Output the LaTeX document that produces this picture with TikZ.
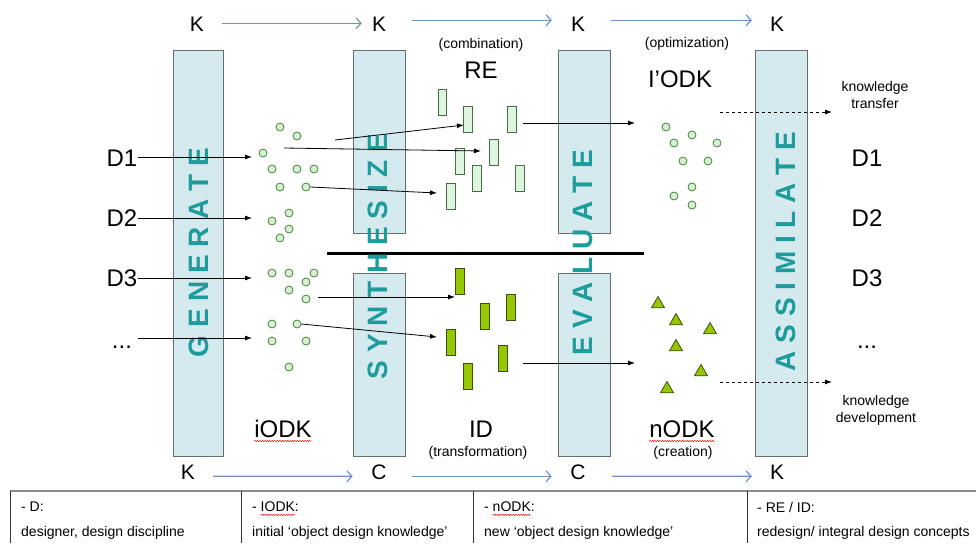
\documentclass[tikz,border=0pt]{standalone}
\usepackage{fontspec}
\setmainfont{Liberation Sans}
\usetikzlibrary{arrows.meta,shapes.geometric,decorations.pathmorphing}
\definecolor{barfill}{RGB}{212,234,239}
\definecolor{barline}{RGB}{100,110,110}
\definecolor{barteal}{RGB}{30,155,155}
\definecolor{dotfill}{RGB}{215,240,210}
\definecolor{dotline}{RGB}{70,130,60}
\definecolor{refill}{RGB}{222,246,222}
\definecolor{reline}{RGB}{70,110,70}
\definecolor{idfill}{RGB}{150,200,0}
\definecolor{idline}{RGB}{60,80,20}
\definecolor{flowblue}{RGB}{110,145,200}
\begin{document}
\begin{tikzpicture}[x=1pt,y=-1pt,
  bar/.style={draw=barline, fill=barfill, line width=1pt},
  bartext/.style={rotate=90, anchor=base, inner sep=0, text=barteal, font=\fontsize{28}{30}\selectfont\bfseries},
  big/.style={inner sep=0, anchor=base, font=\fontsize{24}{28}\selectfont},
  kc/.style={inner sep=0, anchor=base, font=\fontsize{21}{24}\selectfont},
  small/.style={inner sep=0, font=\fontsize{14}{17}\selectfont, align=center},
  tabtext/.style={inner sep=0, anchor=west, font=\fontsize{14}{17}\selectfont},
  dotn/.style={circle, draw=dotline, fill=dotfill, line width=0.8pt, minimum size=8pt, inner sep=0},
  rebox/.style={rectangle, draw=reline, fill=refill, line width=0.8pt, minimum width=8.5pt, minimum height=26pt, inner sep=0},
  idbox/.style={rectangle, draw=idline, fill=idfill, line width=0.8pt, minimum width=8.5pt, minimum height=26pt, inner sep=0},
  tri/.style={regular polygon, regular polygon sides=3, draw=idline, fill=idfill, minimum size=15pt, inner sep=0, line width=0.8pt},
  conn/.style={-{Latex[length=7pt,width=5pt]}, line width=0.8pt},
  dconn/.style={conn, dashed},
  flow/.style={-{Straight Barb[length=5pt,width=11pt]}, draw=flowblue, line width=1.2pt},
  squig/.style={draw=red, line width=0.4pt, decorate, decoration={snake, amplitude=0.7pt, segment length=2.5pt}},
  tabline/.style={draw=black!80, line width=0.9pt}
]
\useasboundingbox (0,0) rectangle (976,543);

% bars
\draw[bar] (173,51) rectangle (223,456);
\draw[bar] (353,51) rectangle (405,233);
\draw[bar] (353,273) rectangle (405,456);
\draw[bar] (558,51) rectangle (610,233);
\draw[bar] (558,273) rectangle (610,456);
\draw[bar] (755,51) rectangle (807,456);

% separator
\draw[line width=3pt] (327,253) -- (644,253);

% bar texts
\node[bartext] (gen) at (208,252.5) {G E N E R A T E};
\node[bartext] (syn) at (387,256.5) {S Y N T H E S I Z E};
\node[bartext] (eva) at (592,252.5) {E V A L U A T E};
\node[bartext] (ass) at (795,251.5) {A S S I M I L A T E};

% K / C labels
\node[kc] (kt1) at (197,31.5) {K};
\node[kc] (kt2) at (379,31.5) {K};
\node[kc] (kt3) at (578,31.5) {K};
\node[kc] (kt4) at (777,31.5) {K};
\node[kc] (kb1) at (188,479.5) {K};
\node[kc] (kb2) at (379,479.5) {C};
\node[kc] (kb3) at (578,479.5) {C};
\node[kc] (kb4) at (777,479.5) {K};
\draw[flow] ([xshift=18pt,yshift=1pt]kt1.east) -- ([xshift=-10pt,yshift=1pt]kt2.west);
\draw[flow] ([xshift=26pt,yshift=4pt]kt2.east) -- ([xshift=-19pt,yshift=4pt]kt3.west);
\draw[flow] ([xshift=26pt,yshift=4pt]kt3.east) -- ([xshift=-18pt,yshift=4pt]kt4.west);
\draw[flow] ([xshift=18pt,yshift=-4pt]kb1.east) -- ([xshift=-18.5pt,yshift=-4pt]kb2.west);
\draw[flow] ([xshift=25.5pt,yshift=-4pt]kb2.east) -- ([xshift=-18.5pt,yshift=-4pt]kb3.west);
\draw[flow] ([xshift=26.5pt,yshift=-4pt]kb3.east) -- ([xshift=-18pt,yshift=-4pt]kb4.west);

% left D labels
\node[big] (D1L) at (122,166.6) {D1};
\node[big] (D2L) at (122,226.6) {D2};
\node[big] (D3L) at (122,286.6) {D3};
\node[big] (DdL) at (122,348) {...};
% right D labels
\node[big] (D1R) at (867,166.6) {D1};
\node[big] (D2R) at (867,226.6) {D2};
\node[big] (D3R) at (867,286.6) {D3};
\node[big] (DdR) at (867,348) {...};

% top labels
\node[small] (comb) at (481,45) {(combination)};
\node[big] (RE) at (481,78.5) {RE};
\node[small] (optim) at (687,44) {(optimization)};
\node[big] (IODK) at (680,87) {I’ODK};
\node[small] (ktrans) at (875,94.5) {knowledge\\transfer};
\node[small] (kdev) at (876,410) {knowledge\\development};

% bottom labels
\node[big] (iODK) at (283,437) {iODK};
\node[big] (ID) at (481,437) {ID};
\node[small] (transf) at (478,453) {(transformation)};
\node[big] (nODK) at (682,437) {nODK};
\node[small] (creat) at (683,453) {(creation)};
\draw[squig] ([yshift=-4pt]iODK.base west) -- ([yshift=-4pt]iODK.base east);
\draw[squig] ([yshift=-4pt]nODK.base west) -- ([yshift=-4pt]nODK.base east);

% upper iODK dots
\foreach \n/\x/\y in {1/280/127, 2/297/136, 3/263/153, 4/272/169, 5/297/169, 6/314/169,
  7/280/187, 8/306/187, 9/289/213, 10/272/221, 11/289/229, 12/280/238}
  \node[dotn] (u\n) at (\x,\y) {};
% lower iODK dots
\foreach \n/\x/\y in {1/272/273, 2/289/273, 3/314/273, 4/306/282, 5/289/290, 6/306/299,
  7/272/324, 8/297/324, 9/272/341, 10/306/341, 11/289/367}
  \node[dotn] (l\n) at (\x,\y) {};
% I'ODK dots
\foreach \n/\x/\y in {1/666/127, 2/692/135, 3/674/143, 4/717/143, 5/683/161, 6/708/161,
  7/692/187, 8/674/196, 9/692/205}
  \node[dotn] (o\n) at (\x,\y) {};
% nODK triangles
\foreach \n/\x/\y in {1/658/304, 2/676/321, 3/710/330, 4/676/347, 5/701/372, 6/667/389}
  \node[tri] (t\n) at (\x,\y) {};
% RE boxes
\foreach \n/\x/\y in {1/442.5/102, 2/468/119, 3/512/119, 4/494/152, 5/460/161, 6/477/178, 7/520/178, 8/451/196}
  \node[rebox] (r\n) at (\x,\y) {};
% ID boxes
\foreach \n/\x/\y in {1/460/281, 2/485/316, 3/511/307, 4/451/342, 5/503/358, 6/468/376}
  \node[idbox] (i\n) at (\x,\y) {};

% connector end points
\coordinate (aD1) at (252,157);
\coordinate (aD2) at (252,218);
\coordinate (aD3) at (252,278);
\coordinate (aDd) at (252,338);
\coordinate (s1) at (335,140);
\coordinate (e1) at (464,125);
\coordinate (s2) at (284,148);
\coordinate (e2) at (481,151);
\coordinate (e3) at (437,193);
\coordinate (s4) at (523,123);
\coordinate (e4) at (635,123);
\coordinate (s5) at (318,297);
\coordinate (e5) at (455,297);
\coordinate (e6) at (437,337);
\coordinate (s7) at (523,363);
\coordinate (e7) at (635,363);
\coordinate (s8) at (720,112);
\coordinate (e8) at (832,112);
\coordinate (s9) at (720,382);
\coordinate (e9) at (832,382);

% connectors
\draw[conn] (D1L.east |- aD1) -- (aD1);
\draw[conn] (D2L.east |- aD2) -- (aD2);
\draw[conn] (D3L.east |- aD3) -- (aD3);
\draw[conn] ([xshift=6pt]DdL.east |- aDd) -- (aDd);
\draw[conn] (s1) -- (e1);
\draw[conn] (s2) -- (e2);
\draw[conn] (u8.east) -- (e3);
\draw[conn] (s4) -- (e4);
\draw[conn] (s5) -- (e5);
\draw[conn] (l8.east) -- (e6);
\draw[conn] (s7) -- (e7);
\draw[dconn] (s8) -- (e8);
\draw[dconn] (s9) -- (e9);

% table
\draw[draw=black!45, line width=1.5pt] (10,491) -- (976,491);
\draw[tabline] (10,491) -- (10,543);
\draw[tabline] (241,491) -- (241,543);
\draw[tabline] (473,491) -- (473,543);
\draw[tabline] (747,491) -- (747,543);
\node[tabtext] (tD) at (21,507) {- D:};
\node[tabtext] (tDd) at (21,533) {designer, design discipline};
\node[tabtext] (tI) at (252,507) {- IODK:};
\node[tabtext] (tId) at (252,533) {initial ‘object design knowledge’};
\node[tabtext] (tN) at (484,507) {- nODK:};
\node[tabtext] (tNd) at (484,533) {new ‘object design knowledge’};
\node[tabtext] (tR) at (757,507) {- RE / ID:};
\node[tabtext] (tRd) at (757,533) {redesign/ integral design concepts};
\draw[squig] ([xshift=8.5pt,yshift=-3pt]tI.base west) -- ([xshift=42.8pt,yshift=-3pt]tI.base west);
\draw[squig] ([xshift=8.5pt,yshift=-3pt]tN.base west) -- ([xshift=46.6pt,yshift=-3pt]tN.base west);
\end{tikzpicture}
\end{document}
